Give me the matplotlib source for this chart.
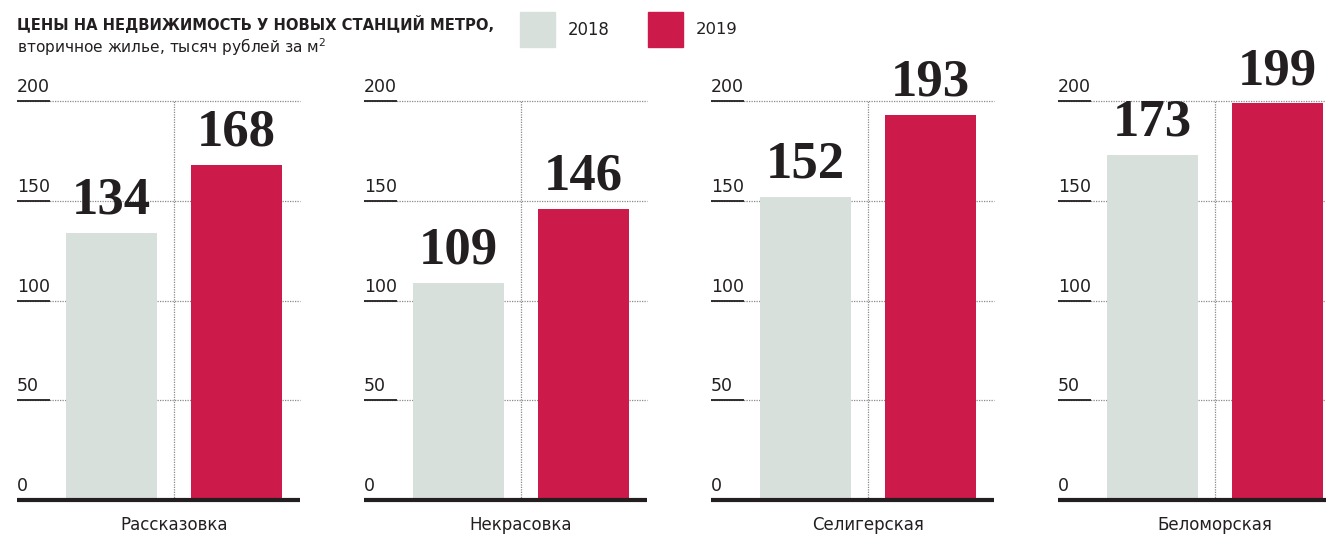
import matplotlib
matplotlib.use('Agg')
import matplotlib.pyplot as plt
from matplotlib import font_manager

# данные
stations = ['Рассказовка', 'Некрасовка', 'Селигерская', 'Беломорская']
prices_2018 = [134, 109, 152, 173]
prices_2019 = [168, 146, 193, 199]
y_ticks = [0, 50, 100, 150, 200]
years = ['2018', '2019']

c_2018 = '#d8e0dc'
c_2019 = '#cc1a4a'
c_text = '#231f20'

# ищем узкий шрифт, если есть
narrow = [f.name for f in font_manager.fontManager.ttflist
          if 'Narrow' in f.name or 'Condensed' in f.name
          or (isinstance(f.stretch, str) and 'condensed' in f.stretch)
          or (isinstance(f.stretch, int) and f.stretch < 500)]
base_font = narrow[0] if narrow else 'Roboto'
fam = [base_font, 'DejaVu Sans']
plt.rcParams['font.family'] = fam

W, H = 1326, 538
fig = plt.figure(figsize=(W / 100, H / 100), dpi=100)
renderer = fig.canvas.get_renderer()


def fit_width(t, px):
    # подогнать размер шрифта под ширину в пикселях
    w = t.get_window_extent(renderer).width
    t.set_fontsize(t.get_fontsize() * px / w)
    return t.get_fontsize()


# panel geometry in pixels
p_left0, p_step, p_width = 17, 347, 283
y_base, y_top = 500, 101
unit = 125.0                   # px between bar centres
x_lo = -94.5 / unit
x_hi = (p_width - 94.5) / unit

tick_fs = None
cat_fs = None
for i, name in enumerate(stations):
    left = p_left0 + p_step * i
    ax = fig.add_axes([left / W, (H - y_base) / H, p_width / W, (y_base - y_top) / H])
    ax.set_xlim(x_lo, x_hi)
    ax.set_ylim(0, 200)
    ax.axis('off')

    # сетка
    for v in y_ticks[1:]:
        ax.plot([x_lo, x_hi], [v, v], color='#8a8a8a', lw=0.9, ls=(0, (1, 1)), zorder=1, clip_on=False)
        ax.plot([x_lo, x_lo + 33 / unit], [v, v], color=c_text, lw=1.3, zorder=3, solid_capstyle='butt', clip_on=False)
    for v in sorted(y_ticks, reverse=True):
        t = ax.text(x_lo, v + 2.5, str(v), fontsize=14, color=c_text, ha='left', va='bottom')
        if tick_fs is None:
            tick_fs = fit_width(t, 33)
        t.set_fontsize(tick_fs)
    ax.plot([0.5, 0.5], [0, 200], color='#8a8a8a', lw=0.9, ls=(0, (1, 1)), zorder=1)

    # столбцы
    vals = [prices_2018[i], prices_2019[i]]
    ax.bar([0, 1], vals, width=91 / unit, color=[c_2018, c_2019], zorder=2)
    for x, v in zip([0, 1], vals):
        ax.text(x, v + 4, str(v), fontsize=38, fontweight='bold', family='Liberation Serif',
                color=c_text, ha='center', va='bottom', clip_on=False)

    ax.plot([x_lo, x_hi], [0, 0], color=c_text, lw=3, solid_capstyle='butt', zorder=4, clip_on=False)
    t = ax.text(0.5, -0.04, name, transform=ax.get_xaxis_transform(), fontsize=14, color=c_text,
                ha='center', va='top')
    if cat_fs is None:
        cat_fs = fit_width(t, 108)
    t.set_fontsize(cat_fs)

# заголовок
t = fig.text(17 / W, 1 - 30 / H, 'ЦЕНЫ НА НЕДВИЖИМОСТЬ У НОВЫХ СТАНЦИЙ МЕТРО,', fontsize=14,
             fontweight='bold', color=c_text, ha='left', va='baseline')
fit_width(t, 475)
t = fig.text(17 / W, 1 - 53 / H, 'вторичное жилье, тысяч рублей за м$^2$', fontsize=13.5,
             color=c_text, ha='left', va='baseline')
fit_width(t, 310)

# легенда
for x0, col, lab in [(520, c_2018, years[0]), (648, c_2019, years[1])]:
    fig.patches.append(plt.Rectangle((x0 / W, 1 - 47 / H), 35 / W, 35 / H, color=col,
                                     transform=fig.transFigure, figure=fig))
    t = fig.text((x0 + 48) / W, 1 - 30 / H, lab, fontsize=15, color=c_text, ha='left', va='center')
    fit_width(t, 42)

plt.savefig('out.png', dpi=100)
